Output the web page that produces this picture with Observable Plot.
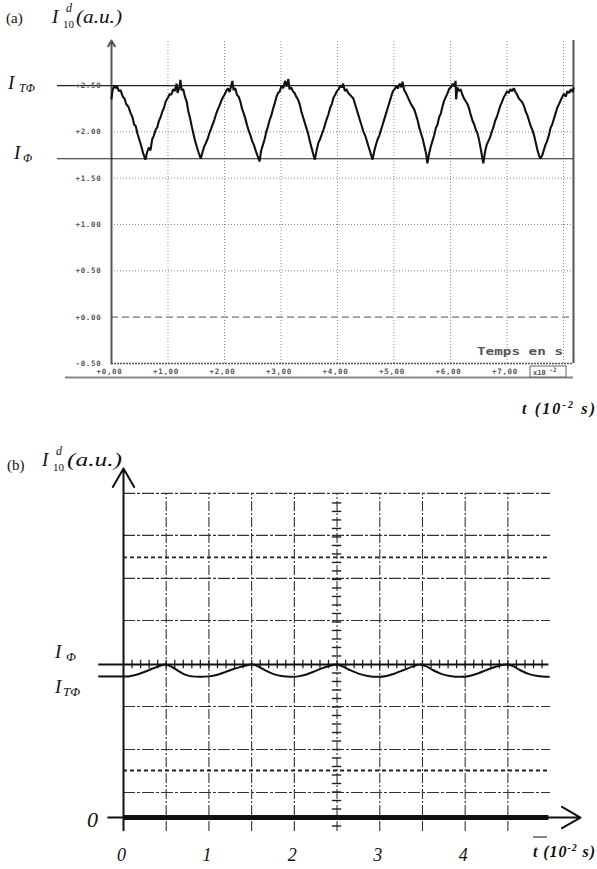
<!DOCTYPE html>
<html>
<head>
<meta charset="utf-8">
<script src="https://cdn.jsdelivr.net/npm/d3@7"></script>
<script src="https://cdn.jsdelivr.net/npm/@observablehq/plot@0.6"></script>
<style>
  html, body { margin: 0; padding: 0; background: #fff; }
  #wrap { position: relative; width: 597px; height: 869px; overflow: hidden; background: #fff; }
  #pa { position: absolute; left: 0; top: 0; }
  #pb { position: absolute; left: 0; top: 420px; }
  #ov { position: absolute; left: 0; top: 0; pointer-events: none; }
</style>
</head>
<body>
<div id="wrap"><div id="pa"></div><div id="pb"></div></div>
<script>
// ---------- Panel (a) data ----------
const xTicksA = [0, 1, 2, 3, 4, 5, 6, 7];
const xTickLabelsA = ["+0,00", "+1,00", "+2,00", "+3,00", "+4,00", "+5,00", "+6,00", "+7,00"];
const yTicksA = [2.5, 2.0, 1.5, 1.0, 0.5, 0.0, -0.5];
const yTickLabelsA = ["+2.50", "+2.00", "+1.50", "+1.00", "+0.50", "+0.00", "-0.50"];
const gridXA = [1, 2, 3, 4, 5, 6, 7, 8];
const gridYA = [2.0, 1.5, 1.0, 0.5];
const zeroLineA = [0];
const levelsA = [2.5, 1.71];   // I_TΦ, I_Φ
const traceA = [
[0.00,2.36],[0.02,2.45],[0.05,2.50],[0.08,2.47],[0.10,2.49],[0.13,2.44],[0.16,2.45],[0.20,2.38],[0.23,2.36],[0.26,2.30],[0.30,2.27],[0.34,2.20],[0.37,2.16],[0.40,2.08],[0.43,2.06],[0.46,1.98],[0.50,1.90],[0.53,1.84],[0.56,1.77],[0.60,1.70],
[0.63,1.78],[0.66,1.83],[0.69,1.80],[0.72,1.92],[0.75,1.96],[0.78,2.02],[0.81,2.05],[0.84,2.12],[0.87,2.16],[0.90,2.22],[0.93,2.26],[0.96,2.33],[1.00,2.37],[1.03,2.41],[1.06,2.40],[1.09,2.46],[1.12,2.44],[1.15,2.52],[1.17,2.42],[1.20,2.48],[1.22,2.56],[1.24,2.45],[1.27,2.46],[1.30,2.38],
[1.33,2.33],[1.36,2.22],[1.39,2.15],[1.42,2.06],[1.45,1.98],[1.48,1.90],[1.51,1.84],[1.54,1.78],[1.58,1.71],
[1.61,1.78],[1.64,1.84],[1.67,1.88],[1.70,1.92],[1.73,1.98],[1.76,2.03],[1.79,2.08],[1.82,2.13],[1.85,2.19],[1.88,2.24],[1.91,2.28],[1.94,2.33],[1.97,2.37],[2.00,2.40],[2.03,2.44],[2.06,2.47],[2.09,2.43],[2.12,2.50],[2.14,2.55],[2.16,2.45],[2.19,2.47],[2.22,2.40],
[2.25,2.38],[2.28,2.33],[2.31,2.25],[2.34,2.20],[2.37,2.14],[2.40,2.07],[2.43,2.01],[2.46,1.96],[2.49,1.90],[2.52,1.86],[2.55,1.80],[2.58,1.75],[2.62,1.68],
[2.65,1.80],[2.68,1.86],[2.71,1.92],[2.74,2.00],[2.77,2.06],[2.80,2.13],[2.83,2.18],[2.86,2.25],[2.89,2.31],[2.92,2.38],[2.95,2.42],[2.98,2.44],[3.01,2.50],[3.04,2.47],[3.07,2.55],[3.10,2.49],[3.13,2.57],[3.15,2.46],[3.18,2.48],[3.21,2.44],
[3.24,2.42],[3.27,2.38],[3.30,2.35],[3.33,2.30],[3.36,2.22],[3.39,2.16],[3.42,2.10],[3.45,2.04],[3.48,1.98],[3.51,1.90],[3.54,1.83],[3.57,1.76],[3.60,1.70],
[3.63,1.80],[3.66,1.88],[3.69,1.92],[3.72,1.97],[3.75,2.02],[3.78,2.08],[3.81,2.14],[3.84,2.19],[3.87,2.26],[3.90,2.30],[3.93,2.37],[3.96,2.40],[3.99,2.44],[4.02,2.46],[4.05,2.50],[4.08,2.48],[4.10,2.52],[4.13,2.44],[4.16,2.46],[4.19,2.42],
[4.22,2.40],[4.25,2.38],[4.28,2.36],[4.31,2.30],[4.34,2.24],[4.37,2.18],[4.40,2.12],[4.43,2.06],[4.46,2.00],[4.49,1.96],[4.52,1.90],[4.55,1.84],[4.58,1.78],[4.62,1.70],
[4.65,1.79],[4.68,1.86],[4.71,1.92],[4.74,1.96],[4.77,2.02],[4.80,2.08],[4.83,2.14],[4.86,2.20],[4.89,2.26],[4.92,2.32],[4.95,2.38],[4.98,2.44],[5.01,2.46],[5.04,2.49],[5.07,2.47],[5.10,2.52],[5.13,2.48],[5.15,2.54],[5.18,2.45],[5.21,2.42],
[5.24,2.38],[5.27,2.34],[5.30,2.30],[5.33,2.27],[5.36,2.24],[5.39,2.18],[5.42,2.12],[5.45,2.04],[5.48,1.98],[5.51,1.92],[5.54,1.84],[5.57,1.76],[5.59,1.66],
[5.62,1.76],[5.65,1.84],[5.68,1.90],[5.71,1.96],[5.74,2.04],[5.77,2.08],[5.80,2.16],[5.83,2.20],[5.86,2.28],[5.89,2.34],[5.92,2.38],[5.95,2.42],[5.98,2.47],[6.01,2.48],[6.04,2.52],[6.07,2.49],[6.09,2.55],[6.10,2.35],[6.12,2.48],[6.15,2.44],[6.18,2.46],[6.21,2.40],
[6.24,2.36],[6.27,2.33],[6.30,2.30],[6.33,2.25],[6.36,2.18],[6.39,2.12],[6.42,2.08],[6.45,2.02],[6.48,1.98],[6.51,1.90],[6.54,1.80],[6.58,1.66],
[6.61,1.78],[6.64,1.86],[6.67,1.90],[6.70,1.94],[6.73,2.00],[6.76,2.05],[6.79,2.12],[6.82,2.16],[6.85,2.22],[6.88,2.28],[6.91,2.32],[6.94,2.37],[6.97,2.40],[7.00,2.44],[7.03,2.42],[7.06,2.46],[7.09,2.44],[7.12,2.47],[7.15,2.43],
[7.18,2.40],[7.21,2.36],[7.24,2.34],[7.27,2.32],[7.30,2.28],[7.33,2.22],[7.36,2.18],[7.39,2.12],[7.42,2.06],[7.45,2.02],[7.48,1.96],[7.51,1.88],[7.54,1.80],[7.57,1.74],[7.59,1.71],[7.62,1.74],
[7.65,1.80],[7.68,1.86],[7.71,1.90],[7.74,1.96],[7.77,2.04],[7.80,2.08],[7.83,2.14],[7.86,2.20],[7.89,2.26],[7.92,2.30],[7.95,2.34],[7.98,2.38],[8.01,2.41],[8.04,2.38],[8.07,2.44],[8.10,2.42],[8.13,2.46],[8.16,2.43],[8.177,2.47]
].map(([t, v]) => ({t, v}));

// ---------- Panel (b) data ----------
const xTicksB = [0, 1, 2, 3, 4];
const xTickLabelsB = ["0", "1", "2", "3", "4"];
const gridXB = [0.5, 1, 1.5, 2, 2.5, 3, 3.5, 4, 4.5];
const gridYB = [0.588, 1.6, 2.612, 4.635, 5.624, 6.635, 7.624];
const dashYB = [1.106, 6.118];
const levelIPhiB = [3.6];
const levelITPhiB = [3.318];
const traceB = [
[0.06,3.318],[0.15,3.36],[0.25,3.43],[0.35,3.51],[0.43,3.57],[0.49,3.60],[0.56,3.55],[0.64,3.45],[0.72,3.36],[0.80,3.32],[0.90,3.31],[1.00,3.32],
[1.10,3.36],[1.20,3.43],[1.30,3.50],[1.40,3.56],[1.51,3.60],[1.58,3.55],[1.66,3.46],[1.75,3.38],[1.85,3.33],[1.95,3.31],[2.05,3.32],
[2.15,3.37],[2.25,3.45],[2.35,3.53],[2.44,3.58],[2.50,3.60],[2.57,3.55],[2.66,3.46],[2.76,3.38],[2.86,3.33],[2.98,3.31],[3.08,3.33],
[3.18,3.39],[3.28,3.47],[3.38,3.55],[3.47,3.60],[3.54,3.56],[3.62,3.47],[3.72,3.38],[3.82,3.33],[3.95,3.31],[4.05,3.33],
[4.15,3.39],[4.25,3.47],[4.35,3.54],[4.43,3.59],[4.49,3.60],[4.56,3.56],[4.64,3.47],[4.74,3.38],[4.85,3.33],[4.98,3.31]
].map(([t, v]) => ({t, v}));

// ---------- Panel (a) ----------
const XA = 8.177, YA0 = -0.5, YA1 = 2.986;
const mono = "DejaVu Sans Mono";
const plotA = Plot.plot({
  width: 597, height: 420,
  marginLeft: 111, marginRight: 24, marginTop: 40, marginBottom: 57,
  x: {domain: [0, XA], axis: null},
  y: {domain: [YA0, YA1], axis: null},
  style: {background: "transparent", overflow: "visible"},
  marks: [
    Plot.ruleX(gridXA, {x: d => d, y1: YA0, y2: YA1, stroke: "#8a8a8a", strokeWidth: 1, strokeDasharray: "1,2"}),
    Plot.ruleY(gridYA, {y: d => d, x1: 0, x2: XA, stroke: "#8a8a8a", strokeWidth: 1, strokeDasharray: "1,2"}),
    Plot.ruleY(zeroLineA, {y: d => d, x1: 0, x2: XA, stroke: "#9a9a9a", strokeWidth: 1.6, strokeDasharray: "7,4"}),
    Plot.ruleY([YA0], {y: d => d, x1: 0, x2: XA, stroke: "#555", strokeWidth: 1.6, strokeDasharray: "2,1"}),
    Plot.ruleX([XA], {x: d => d, y1: YA0, y2: YA1, stroke: "#555", strokeWidth: 2}),
    Plot.ruleY([-0.651], {y: d => d, x1: -0.814, x2: XA, stroke: "#888", strokeWidth: 2}),
    Plot.arrow([0], {x1: 0, x2: 0, y1: YA0, y2: YA1, stroke: "#555", strokeWidth: 2, headLength: 5}),
    Plot.ruleY(levelsA, {y: d => d, x1: -0.956, x2: XA, stroke: "#222", strokeWidth: 1.2}),
    Plot.line(traceA, {x: "t", y: "v", stroke: "#111", strokeWidth: 2.1, strokeLinejoin: "miter"}),
    Plot.text(yTicksA, {x: 0, y: d => d, text: (d, i) => yTickLabelsA[i], textAnchor: "end", dx: -10,
      fontFamily: mono, fontSize: 7.5, fontWeight: "bold", fill: "#555"}),
    Plot.text(xTicksA, {x: d => d, y: YA0, text: (d, i) => xTickLabelsA[i], dx: -2, dy: 8,
      fontFamily: mono, fontSize: 7.5, fontWeight: "bold", fill: "#555"})
  ]
});
document.getElementById("pa").appendChild(plotA);

// ---------- Panel (b) ----------
const XB = 5.35, YB0 = -0.376, YB1 = 8.21, XBEND = 5.0;
const serif = "Liberation Serif";
const plotB = Plot.plot({
  width: 597, height: 449,
  marginLeft: 123, marginRight: 17, marginTop: 48, marginBottom: 36,
  x: {domain: [0, XB], axis: null},
  y: {domain: [YB0, YB1], axis: null},
  style: {background: "transparent", overflow: "visible"},
  marks: [
    Plot.ruleX(gridXB, {x: d => d, y1: -0.33, y2: 7.624, stroke: "#333", strokeWidth: 1.1, strokeDasharray: "10,2,2,2"}),
    Plot.ruleY(gridYB, {y: d => d, x1: 0, x2: XBEND, stroke: "#333", strokeWidth: 1.2, strokeDasharray: "12,2,3,2"}),
    Plot.ruleY(dashYB, {y: d => d, x1: 0, x2: XBEND, stroke: "#222", strokeWidth: 1.8, strokeDasharray: "4,3"}),
    Plot.ruleY(d3.range(-0.2, 7.5, 0.2), {y: d => d, x1: 2.5 - 0.055, x2: 2.5 + 0.055, stroke: "#222", strokeWidth: 1.4}),
    Plot.ruleX(d3.range(0.1, 4.95, 0.1), {x: d => d, y1: 3.6 - 0.1, y2: 3.6 + 0.1, stroke: "#222", strokeWidth: 1.3}),
    Plot.ruleY(levelIPhiB, {y: d => d, x1: -0.29, x2: 4.98, stroke: "#111", strokeWidth: 2}),
    Plot.ruleY(levelITPhiB, {y: d => d, x1: -0.29, x2: 0.06, stroke: "#111", strokeWidth: 2}),
    Plot.line(traceB, {x: "t", y: "v", curve: "catmull-rom", stroke: "#111", strokeWidth: 2}),
    Plot.ruleY([0], {y: d => d, x1: 0, x2: 4.98, stroke: "#111", strokeWidth: 5}),
    Plot.arrow([0], {x1: -0.18, x2: XB, y1: 0, y2: 0, stroke: "#111", strokeWidth: 2, headLength: 16}),
    Plot.arrow([0], {x1: 0, x2: 0, y1: -0.3, y2: YB1, stroke: "#111", strokeWidth: 2, headLength: 16}),
    Plot.text(xTicksB, {x: d => d, y: 0, text: (d, i) => xTickLabelsB[i], dx: -2, dy: 38,
      fontFamily: serif, fontStyle: "italic", fontSize: 18, fill: "#111"}),
    Plot.text(["0"], {x: 0, y: 0, text: d => d, dx: -31, dy: 2,
      fontFamily: serif, fontStyle: "italic", fontSize: 22, fill: "#111"})
  ]
});
document.getElementById("pb").appendChild(plotB);

// letter spacing for the oscilloscope labels
d3.select(plotA).selectAll("g[font-family='" + mono + "']").style("letter-spacing", "0.7px");

// ---------- Text overlay (titles, axis names, level names) ----------
const ov = d3.select("#wrap").append("svg").attr("id", "ov")
  .attr("width", 597).attr("height", 869);
function txt(x, y, s, size, opts = {}) {
  const t = ov.append("text").attr("x", x).attr("y", y)
    .attr("font-family", opts.family || serif).attr("font-size", size)
    .attr("fill", opts.fill || "#111")
    .attr("font-style", opts.italic ? "italic" : "normal")
    .attr("font-weight", opts.bold ? "bold" : "normal").text(s);
  if (opts.len) t.attr("textLength", opts.len).attr("lengthAdjust", "spacingAndGlyphs");
  return t;
}
// (a)
txt(6, 23, "(a)", 15);
txt(52, 23, "I", 19, {italic: true});
txt(66, 12, "d", 12, {italic: true});
txt(63, 28, "10", 11);
txt(76, 23, "(a.u.)", 19, {italic: true, len: 46});
txt(8, 89, "I", 19, {italic: true});
txt(19, 92, "TΦ", 12, {italic: true});
txt(14, 159, "I", 19, {italic: true});
txt(23, 162, "Φ", 12, {italic: true});
const ta = txt(522, 414, "t  (10", 16, {italic: true, bold: true});
ta.append("tspan").attr("dy", -6).attr("font-size", 10).text("-2");
ta.append("tspan").attr("dy", 6).text(" s)");
ta.attr("textLength", 73).attr("lengthAdjust", "spacing");
txt(477, 355, "Temps en s", 10, {family: mono, bold: true, fill: "#555", len: 86});
ov.append("rect").attr("x", 530).attr("y", 366).attr("width", 36).attr("height", 11)
  .attr("fill", "#fff").attr("stroke", "#666").attr("stroke-width", 1);
const bx = txt(533, 375, "x10", 7, {family: mono, bold: true, fill: "#555"});
bx.append("tspan").attr("dy", -3).attr("font-size", 6).text(" -2");
// (b)
txt(7, 470, "(b)", 15);
txt(42, 466, "I", 19, {italic: true});
txt(56, 455, "d", 12, {italic: true});
txt(53, 471, "10", 11);
txt(67, 466, "(a.u.)", 19, {italic: true, len: 55});
txt(55, 658, "I", 19, {italic: true});
txt(66, 661, "Φ", 13, {italic: true});
txt(55, 693, "I", 19, {italic: true});
txt(63, 696, "TΦ", 13, {italic: true});
const tb = txt(533, 857, "t (10", 16, {italic: true, bold: true});
tb.append("tspan").attr("dy", -6).attr("font-size", 10).text("-2");
tb.append("tspan").attr("dy", 6).text(" s)");
tb.attr("textLength", 62).attr("lengthAdjust", "spacing");
ov.append("line").attr("x1", 533).attr("x2", 547).attr("y1", 837).attr("y2", 837)
  .attr("stroke", "#333").attr("stroke-width", 1.2);
</script>
</body>
</html>
